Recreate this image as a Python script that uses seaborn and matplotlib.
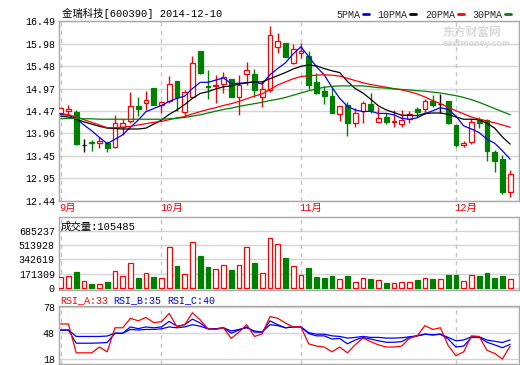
import numpy as np
import pandas as pd
import matplotlib
matplotlib.use("Agg")
import matplotlib.pyplot as plt
import matplotlib.transforms as mtransforms
from matplotlib.lines import Line2D
import seaborn as sns

sns.set_theme(style="white")
plt.rcParams['font.family'] = ['Liberation Mono', 'Noto Sans CJK SC', 'DejaVu Sans']

# daily candles, 2014-09-12 .. 2014-12-10
opens = [14.41, 14.46, 14.44, 13.70, 13.76, 13.74, 13.74, 13.65, 14.11, 14.24,
         14.58, 14.64, 14.98, 14.59, 14.68, 15.13, 14.44, 14.77, 15.82, 15.02,
         15.02, 15.07, 15.19, 14.77, 15.29, 15.30, 14.79, 14.94, 15.91, 15.99,
         15.54, 15.76, 15.70, 15.11, 14.92, 14.80, 14.40, 14.60, 14.19, 14.47,
         14.62, 14.21, 14.32, 14.22, 14.17, 14.28, 14.51, 14.50, 14.69, 14.62,
         14.68, 14.15, 13.69, 13.76, 14.28, 14.26, 13.55, 13.38, 12.64]
highs = [14.54, 14.61, 14.49, 13.84, 13.81, 13.89, 13.78, 14.38, 14.29, 14.90,
         14.77, 14.92, 14.98, 14.68, 15.25, 15.14, 14.94, 15.70, 15.82, 15.39,
         15.28, 15.34, 15.19, 15.28, 15.57, 15.40, 15.13, 16.38, 16.21, 16.00,
         15.97, 15.99, 15.82, 15.31, 15.02, 15.03, 14.58, 14.66, 14.53, 14.69,
         14.86, 14.56, 14.43, 14.49, 14.49, 14.47, 14.56, 14.74, 14.83, 14.85,
         14.70, 14.15, 13.80, 14.28, 14.32, 14.28, 13.59, 13.48, 13.14]
lows = [14.40, 14.40, 13.70, 13.55, 13.57, 13.63, 13.55, 13.63, 13.93, 14.19,
        14.35, 14.49, 14.59, 14.42, 14.64, 14.47, 14.32, 14.75, 15.30, 14.74,
        14.65, 14.88, 14.77, 14.38, 15.05, 14.79, 14.56, 14.90, 15.76, 15.67,
        15.53, 15.65, 14.97, 14.84, 14.63, 14.41, 14.25, 13.91, 14.10, 14.20,
        14.43, 14.21, 14.17, 14.11, 14.11, 14.20, 14.34, 14.40, 14.56, 14.43,
        14.17, 13.66, 13.66, 13.72, 14.09, 13.35, 13.10, 12.59, 12.52]
closes = [14.53, 14.50, 13.72, 13.70, 13.75, 13.80, 13.64, 14.19, 14.19, 14.58,
          14.50, 14.71, 14.60, 14.66, 15.07, 14.77, 14.89, 15.54, 15.31, 15.00,
          15.05, 15.24, 14.79, 15.05, 15.39, 14.94, 14.95, 16.18, 16.05, 15.69,
          15.85, 15.82, 15.04, 14.88, 14.81, 14.41, 14.58, 14.19, 14.43, 14.64,
          14.49, 14.30, 14.22, 14.24, 14.26, 14.40, 14.44, 14.68, 14.59, 14.62,
          14.20, 13.69, 13.74, 14.21, 14.20, 13.57, 13.33, 12.65, 13.04]

ma5 = [14.39, 14.37, 14.30, 14.15, 14.02, 13.87, 13.73, 13.83, 13.93, 14.10,
       14.26, 14.45, 14.52, 14.59, 14.68, 14.75, 14.80, 14.97, 15.11, 15.11,
       15.16, 15.21, 15.08, 15.09, 15.10, 15.12, 15.07, 15.28, 15.42, 15.55,
       15.75, 15.91, 15.69, 15.46, 15.28, 15.00, 14.75, 14.57, 14.49, 14.45,
       14.46, 14.41, 14.41, 14.38, 14.30, 14.28, 14.31, 14.40, 14.47, 14.54,
       14.50, 14.35, 14.13, 14.06, 13.98, 13.83, 13.74, 13.57, 13.38]
ma10 = [14.35, 14.33, 14.28, 14.22, 14.17, 14.12, 14.08, 14.07, 14.06, 14.06,
        14.06, 14.08, 14.17, 14.26, 14.39, 14.49, 14.61, 14.75, 14.86, 14.90,
        14.96, 15.01, 15.03, 15.07, 15.10, 15.12, 15.12, 15.19, 15.26, 15.33,
        15.41, 15.47, 15.50, 15.48, 15.42, 15.37, 15.33, 15.13, 14.97, 14.87,
        14.73, 14.58, 14.49, 14.43, 14.37, 14.37, 14.36, 14.41, 14.42, 14.42,
        14.39, 14.33, 14.28, 14.28, 14.27, 14.19, 14.08, 13.88, 13.72]
ma20 = [14.41, 14.38, 14.33, 14.27, 14.21, 14.15, 14.09, 14.09, 14.10, 14.12,
        14.15, 14.18, 14.21, 14.23, 14.27, 14.31, 14.34, 14.40, 14.45, 14.50,
        14.54, 14.59, 14.63, 14.68, 14.74, 14.80, 14.85, 14.95, 15.05, 15.12,
        15.19, 15.24, 15.26, 15.27, 15.28, 15.27, 15.25, 15.20, 15.15, 15.10,
        15.06, 15.03, 15.00, 14.97, 14.94, 14.90, 14.85, 14.78, 14.70, 14.63,
        14.55, 14.47, 14.40, 14.33, 14.28, 14.24, 14.20, 14.15, 14.10]
ma30 = [14.29, 14.30, 14.30, 14.29, 14.29, 14.28, 14.28, 14.28, 14.28, 14.28,
        14.28, 14.28, 14.28, 14.28, 14.29, 14.30, 14.32, 14.35, 14.38, 14.42,
        14.46, 14.50, 14.53, 14.57, 14.60, 14.63, 14.66, 14.70, 14.73, 14.77,
        14.82, 14.87, 14.92, 14.96, 15.00, 15.02, 15.03, 15.03, 15.03, 15.03,
        15.01, 14.99, 14.98, 14.96, 14.95, 14.94, 14.92, 14.91, 14.89, 14.87,
        14.84, 14.81, 14.77, 14.72, 14.66, 14.59, 14.52, 14.45, 14.38]

volume = [133000, 145000, 198000, 85000, 52000, 48000, 77000, 210000, 145000, 302000,
          125000, 181000, 137000, 121000, 496000, 270000, 169000, 556000, 379000, 258000,
          234000, 278000, 222000, 278000, 496000, 306000, 181000, 605000, 532000, 355000,
          266000, 157000, 246000, 137000, 125000, 149000, 113000, 149000, 73000, 125000,
          113000, 97000, 64000, 60000, 73000, 73000, 101000, 125000, 113000, 113000,
          161000, 161000, 85000, 157000, 149000, 185000, 125000, 149000, 105485]

rsi_a = [58.4, 58.4, 25.1, 25.1, 25.1, 31.8, 26.2, 54.0, 54.0, 65.0,
         62.0, 66.0, 60.0, 61.0, 70.6, 55.0, 57.6, 71.3, 63.2, 52.8,
         52.0, 54.0, 41.7, 49.0, 57.6, 44.0, 47.0, 66.9, 65.0, 59.5,
         55.0, 55.0, 35.5, 32.9, 31.8, 26.2, 31.8, 25.1, 34.3, 42.1,
         38.0, 34.3, 31.8, 31.8, 32.9, 41.7, 44.7, 56.5, 52.1, 54.0,
         33.6, 21.8, 26.2, 44.7, 44.0, 28.0, 24.4, 18.0, 33.0]
rsi_b = [51.4, 51.4, 36.2, 36.2, 36.2, 36.5, 37.0, 47.7, 47.7, 55.0,
         53.0, 55.0, 54.0, 55.0, 61.4, 55.8, 57.6, 64.0, 59.5, 52.8,
         52.8, 54.0, 47.7, 51.4, 55.0, 49.0, 49.0, 62.0, 57.6, 54.0,
         55.0, 55.0, 47.3, 44.7, 44.7, 41.0, 41.7, 35.5, 39.9, 42.9,
         41.0, 39.0, 37.3, 37.3, 38.0, 42.9, 44.7, 46.6, 45.8, 46.6,
         41.0, 31.8, 32.9, 42.9, 42.9, 37.3, 34.3, 31.0, 35.0]
rsi_c = [51.4, 51.4, 44.0, 44.0, 44.0, 44.0, 44.5, 47.7, 47.7, 52.1,
         51.4, 52.1, 52.1, 52.8, 55.0, 54.0, 55.0, 57.6, 55.8, 52.8,
         52.8, 54.0, 50.3, 52.1, 54.0, 50.3, 49.0, 57.6, 56.5, 54.0,
         55.0, 55.0, 48.4, 46.6, 46.6, 44.7, 44.0, 42.1, 42.9, 44.0,
         42.9, 42.9, 42.1, 42.1, 42.5, 43.6, 44.7, 46.6, 45.8, 46.6,
         42.9, 39.0, 39.9, 43.6, 43.6, 39.9, 38.4, 37.0, 40.0]

month_idx = [0, 13, 31, 51]
month_labels = ['9月', '10月', '11月', '12月']
price_ticks = [12.44, 12.95, 13.45, 13.96, 14.47, 14.97, 15.48, 15.98, 16.49]
vol_ticks = [0, 171309, 342619, 513928, 685237]
rsi_ticks = [18, 48, 78]

df = pd.DataFrame({'day': np.arange(len(closes)), 'open': opens, 'high': highs,
                   'low': lows, 'close': closes, 'ma5': ma5, 'ma10': ma10,
                   'ma20': ma20, 'ma30': ma30, 'volume': volume,
                   'rsi_a': rsi_a, 'rsi_b': rsi_b, 'rsi_c': rsi_c})

UP, DOWN = '#ff0000', '#008000'
GRID, FRAME = '#d4d4d4', '#a8a8a8'
W, H = 520, 365


def box(l, t, r, b):
    return [l / W, 1 - b / H, (r - l) / W, (b - t) / H]


fig = plt.figure(figsize=(5.2, 3.65), dpi=100)
fig.patch.set_facecolor('white')
ax1 = fig.add_axes(box(59, 21, 519, 201))
ax2 = fig.add_axes(box(59, 217, 519, 290), sharex=ax1)
ax3 = fig.add_axes(box(59, 306, 519, 364), sharex=ax1)

# candles
for _, r in df.iterrows():
    o, c = r['open'], r['close']
    col = UP if c > o else (DOWN if c < o else 'black')
    top, bot = max(o, c), min(o, c)
    ax1.vlines(r['day'], top, r['high'], color=col, lw=1, zorder=2)
    ax1.vlines(r['day'], r['low'], bot, color=col, lw=1, zorder=2)
    ax1.bar(r['day'], top - bot, bottom=bot, width=0.62,
            facecolor='white' if c >= o else col, edgecolor=col, lw=0.9, zorder=3)

for col_name, color in [('ma5', 'blue'), ('ma10', 'black'), ('ma20', 'red'), ('ma30', 'green')]:
    sns.lineplot(data=df, x='day', y=col_name, ax=ax1, color=color, lw=0.9, zorder=4)

# volume
up = df['close'] >= df['open']
ax2.bar(df['day'], df['volume'], width=0.62,
        color=np.where(up, 'white', DOWN), edgecolor=np.where(up, UP, DOWN), lw=0.9, zorder=3)

# rsi
sns.lineplot(data=df, x='day', y='rsi_c', ax=ax3, color='blue', lw=0.9, zorder=3)
sns.lineplot(data=df, x='day', y='rsi_b', ax=ax3, color='blue', lw=0.9, zorder=3)
sns.lineplot(data=df, x='day', y='rsi_a', ax=ax3, color='red', lw=0.9, zorder=4)

ax1.set_ylim(12.44, 16.49)
ax1.set_xlim(-0.22, 59.14)
ax2.set_ylim(-24043, 853541)
ax3.set_ylim(12.2, 79.15)

for ax, ticks, labels in [(ax1, price_ticks, [f'{t:.2f}' for t in price_ticks]),
                          (ax2, vol_ticks, [str(t) for t in vol_ticks]),
                          (ax3, rsi_ticks, [str(t) for t in rsi_ticks])]:
    ax.set_facecolor('white')
    ax.set_yticks(ticks)
    ax.set_yticklabels(labels)
    ax.yaxis.grid(True, color=GRID, lw=1)
    ax.xaxis.grid(False)
    ax.set_axisbelow(True)
    ax.tick_params(axis='y', length=0, pad=3, labelsize=7.2, colors='black')
    ax.tick_params(axis='x', bottom=False, labelbottom=False)
    ax.set_xlabel('')
    ax.set_ylabel('')
    for s in ax.spines.values():
        s.set_color(FRAME)
        s.set_linewidth(1)
    for i in month_idx:
        ax.axvline(i, color='#c4c4c4', lw=1, ls=(0, (3, 3)), zorder=1)

trans = mtransforms.blended_transform_factory(ax1.transData, ax1.transAxes)
for i, lab in zip(month_idx, month_labels):
    ax1.text(i - 0.2, -0.04, lab, transform=trans, color='red', fontsize=7.5,
             ha='left', va='center')

fig.text(62 / W, 1 - 13.5 / H, '金瑞科技[600390] 2014-12-10', fontsize=7.5,
         ha='left', va='center', color='black')

handles = [Line2D([], [], color=c, lw=2) for c in ['blue', 'black', 'red', 'green']]
fig.legend(handles, ['5PMA', '10PMA', '20PMA', '30PMA'], loc='center right',
           bbox_to_anchor=(511 / W, 1 - 14.5 / H), ncol=4, frameon=False,
           markerfirst=False, handlelength=0.6, handletextpad=0.25,
           columnspacing=0.9, fontsize=7.2, borderpad=0, borderaxespad=0)

fig.text(442 / W, 1 - 32 / H, '东方财富网', color='#d9d9d9', fontsize=8.5,
         fontweight='bold', family='Noto Sans CJK SC', ha='left', va='center')
fig.text(443 / W, 1 - 43 / H, 'eastmoney.com', color='#d9d9d9', fontsize=5.5,
         fontweight='bold', family='DejaVu Sans', ha='left', va='center')

ax2.text(0.003, 0.863, '成交量:105485', transform=ax2.transAxes, fontsize=7.5,
         ha='left', va='center', color='black')

for x, txt, c in [(60, 'RSI_A:33', 'red'), (113, 'RSI_B:35', 'blue'), (167, 'RSI_C:40', 'blue')]:
    fig.text(x / W, 1 - 300 / H, txt, color=c, fontsize=7.2, ha='left', va='center')

fig.savefig('out.png', dpi=100)
